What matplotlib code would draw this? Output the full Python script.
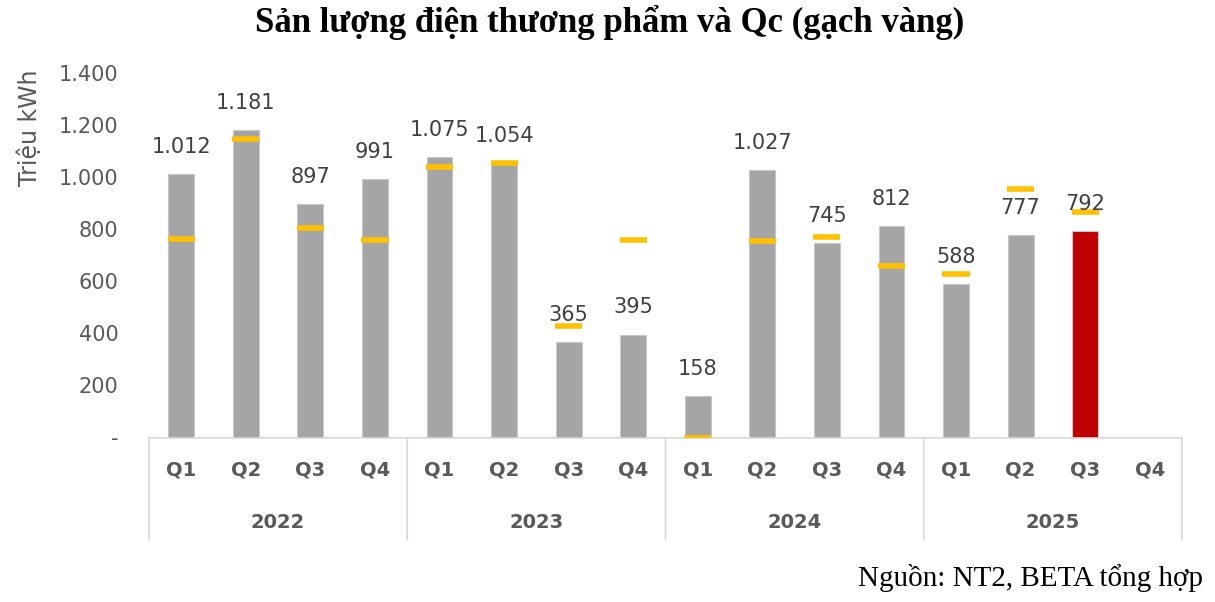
import matplotlib.pyplot as plt
import numpy as np

years = ['2022', '2023', '2024', '2025']
quarters = ['Q1', 'Q2', 'Q3', 'Q4']
san_luong = [1012, 1181, 897, 991, 1075, 1054, 365, 395,
             158, 1027, 745, 812, 588, 777, 792, np.nan]
qc = [762, 1145, 804, 757, 1040, 1052, 427, 757,
      0, 754, 769, 657, 628, 953, 864, np.nan]
highlight = 14  # Q3 2025

grey, red, yellow, txt = '#A5A5A5', '#C00000', '#FFC000', '#595959'

def fmt(v):
    if v == 0:
        return '-'
    return f'{int(v):,}'.replace(',', '.')

fig = plt.figure(figsize=(12.15, 6.02), dpi=100)
ax = fig.add_axes([149 / 1215, 1 - 437.5 / 602, (1182 - 149) / 1215, (437.5 - 72.7) / 602])

n = len(san_luong)
x = np.arange(n)
colors = [red if i == highlight else grey for i in range(n)]
ax.bar(x, san_luong, width=0.4, color=colors, edgecolor='#C8C8C8', linewidth=0.8, zorder=2)
ax.hlines(qc, x - 0.21, x + 0.21, color=yellow, linewidth=4, zorder=3, capstyle='butt')

for xi, v in zip(x, san_luong):
    if np.isnan(v):
        continue
    ax.annotate(fmt(v), (xi, v), xytext=(0, 19.5), textcoords='offset points',
                ha='center', va='center', fontsize=15, color='#404040')

ax.set_xlim(-0.5, n - 0.5)
ax.set_ylim(0, 1400)
ax.set_yticks(np.arange(0, 1401, 200))
ax.set_yticklabels([fmt(t) for t in np.arange(0, 1401, 200)], fontsize=15, color=txt)
ax.tick_params(axis='y', length=0, pad=22)
ax.set_xticks([])
for s in ['left', 'right', 'top']:
    ax.spines[s].set_visible(False)
ax.spines['bottom'].set_color('#D9D9D9')
ax.spines['bottom'].set_linewidth(1.2)

# category labels
trans = ax.get_xaxis_transform()
for i in range(n):
    ax.annotate(quarters[i % 4], (i, 0), xytext=(0, -23.5), textcoords='offset points',
                xycoords=trans, ha='center', va='center', fontsize=14, fontweight='bold', color=txt)
for j, y in enumerate(years):
    ax.annotate(y, (j * 4 + 1.5, 0), xytext=(0, -61), textcoords='offset points',
                xycoords=trans, ha='center', va='center', fontsize=14, fontweight='bold', color=txt)
for k in range(len(years) + 1):
    ax.annotate('', (k * 4 - 0.5, 0), xytext=(k * 4 - 0.5, -0.28), xycoords=trans, textcoords=trans,
                arrowprops=dict(arrowstyle='-', color='#D9D9D9', lw=1.2, shrinkA=0, shrinkB=0))

fig.text(30 / 1215, 1 - 128 / 602, 'Triệu kWh', rotation=90, ha='center', va='center',
         fontsize=17, color=txt)
fig.text(610 / 1215, 1 - 22 / 602, 'Sản lượng điện thương phẩm và Qc (gạch vàng)',
         ha='center', va='center', fontsize=25, fontweight='bold', family='Liberation Serif')
fig.text(1203 / 1215, 1 - 578 / 602, 'Nguồn: NT2, BETA tổng hợp', ha='right', va='center',
         fontsize=21, family='Liberation Serif')

plt.savefig('out.png', dpi=100, facecolor='white')
